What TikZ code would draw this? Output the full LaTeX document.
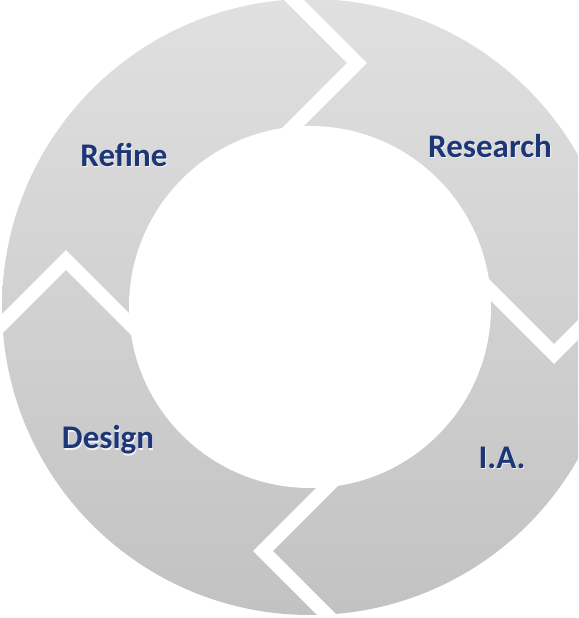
\documentclass[tikz,border=0pt]{standalone}
\usepackage{fontspec}
\setmainfont{Carlito}
\usetikzlibrary{calc}
\definecolor{ringtop}{HTML}{E0E0E0}
\definecolor{ringbot}{HTML}{C2C2C2}
\definecolor{labelblue}{HTML}{1C3678}
\tikzset{
  gapline/.style={draw=white, line width=14pt, line join=miter, line cap=butt},
  lbl/.style={font=\fontsize{33}{39}\selectfont\bfseries, text=labelblue, inner sep=0pt},
  lblshadow/.style={font=\fontsize{33}{39}\selectfont\bfseries, text=white, inner sep=0pt, opacity=0.8}
}
\begin{document}
\begin{tikzpicture}[x=1pt,y=1pt]
\useasboundingbox (0,0) rectangle (578,618);
\coordinate (c) at (310,311);
\begin{scope}
  \clip (0,0) rectangle (578,618);
  \shade[top color=ringtop, bottom color=ringbot] (c) circle (308);
  \fill[white] (c) circle (181);
  \foreach \a in {0,90,180,270}{
    \draw[gapline, rotate around={-\a:(c)}] ($(c)+(-33,164)$) -- ++(80,80) -- ++(-80,80);
  }
\end{scope}
\foreach \n/\p/\t in {research/{490,472}/Research, refine/{124,463}/Refine, design/{108,178}/Design, ia/{502,160}/I.A.}{
  \node[lblshadow] at ($(\p)+(0.8,-1.3)$) {\t};
  \node[lbl] (\n) at (\p) {\t};
}
\end{tikzpicture}
\end{document}
